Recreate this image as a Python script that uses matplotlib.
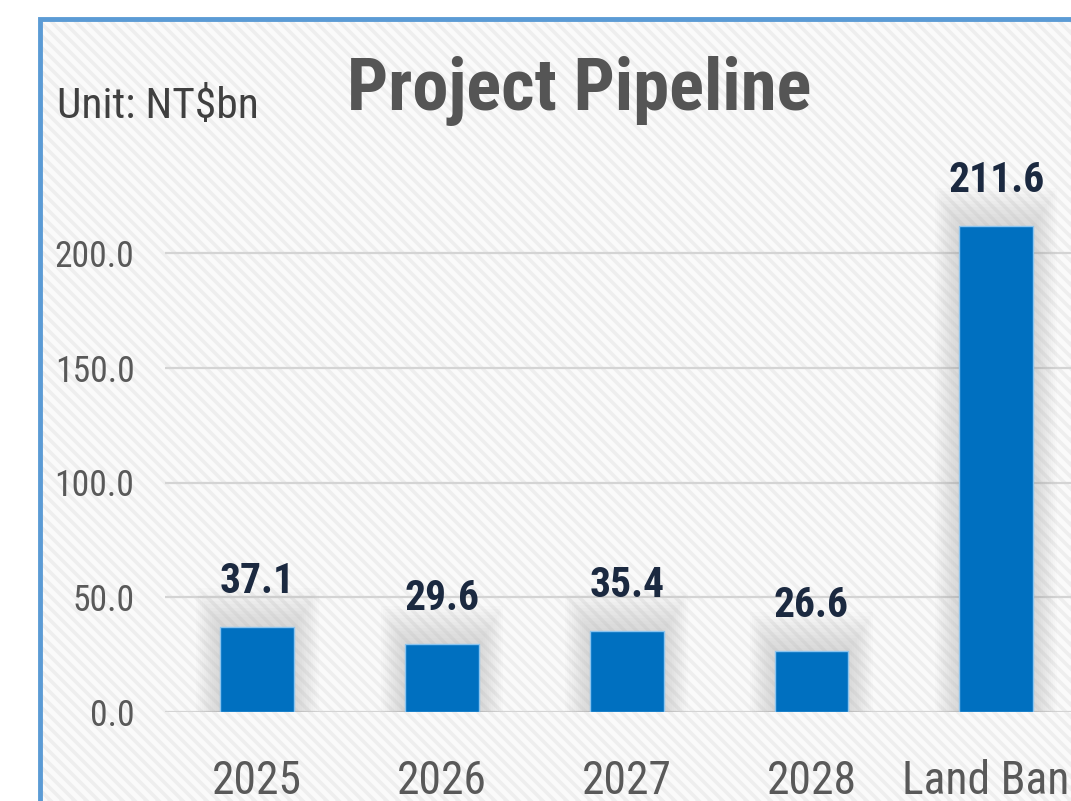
import matplotlib
matplotlib.use("Agg")
import matplotlib.pyplot as plt
from matplotlib.patches import Rectangle
from matplotlib.collections import LineCollection
from matplotlib import font_manager
import numpy as np

categories = ["2025", "2026", "2027", "2028", "Land Bank"]
values = [37.1, 29.6, 35.4, 26.6, 211.6]
yticks = [0, 50, 100, 150, 200]
title = "Project Pipeline"
unit_label = "Unit: NT$bn"

available = {f.name for f in font_manager.fontManager.ttflist}
prefs = ["Roboto Condensed", "Liberation Sans Narrow", "Open Sans Condensed",
         "DejaVu Sans Condensed", "Roboto", "Liberation Sans"]
main_font = next((p for p in prefs if p in available), "DejaVu Sans")
plt.rcParams["font.family"] = [main_font, "DejaVu Sans"]

W, H = 1071, 801
fig = plt.figure(figsize=(W / 100, H / 100), dpi=100)
fig.patch.set_facecolor("white")
renderer = fig.canvas.get_renderer()


def fit_size(s, target_px, weight="normal"):
    t = fig.text(0, 0, s, fontsize=20, fontweight=weight)
    w = t.get_window_extent(renderer=renderer).width
    t.remove()
    return 20 * target_px / w


# background panel with diagonal stripes and blue border
bx_px, by_px = 40, 19
bx, by = bx_px / W, 1 - by_px / H
bg = Rectangle((bx, -0.1), 1.2, by + 0.1, transform=fig.transFigure,
               facecolor="#eeeeee", edgecolor="none", zorder=-10)
fig.patches.append(bg)

period = 12.0
segs = []
top = H - by_px
for x0 in np.arange(bx_px - H, W + 10, period):
    L = H + 20
    segs.append([((x0) / W, top / H), ((x0 + L) / W, (top - L) / H)])
stripes = LineCollection(segs, colors="#fafafa", linewidths=3.6,
                         transform=fig.transFigure, zorder=-9)
stripes.set_clip_path(bg)
fig.add_artist(stripes)

border = Rectangle((bx, -0.1), 1.2, by + 0.1, transform=fig.transFigure,
                   facecolor="none", edgecolor="#5b9bd5", linewidth=3.5, zorder=10)
fig.patches.append(border)

# axes placement
ax_left = 165 / W
ax_width = 923.5 / W
ax_bottom = (H - 712) / H
ymax = 240
ax_height = (ymax * 2.295) / H
ax = fig.add_axes([ax_left, ax_bottom, ax_width, ax_height])
ax.set_facecolor("none")
ax.set_xlim(-0.5, 4.5)
ax.set_ylim(0, ymax)

x = np.arange(len(categories))

# soft shadow (glow) behind bars
for k in range(12):
    grow = k + 1
    ax.bar(x, [v + grow * 1.4 for v in values], width=0.40 + 0.022 * grow,
           color="#7a7a7a", alpha=0.018, edgecolor="none", zorder=1)

ax.bar(x, values, width=0.40, color="#0070c0", edgecolor="#8cc4ee",
       linewidth=1.0, zorder=3)

val_size = fit_size("37.1", 75, "bold")
for xi, v in zip(x, values):
    ax.annotate(f"{v:.1f}", xy=(xi, v), xytext=(0, 18), textcoords="offset points",
                ha="center", va="bottom", fontsize=val_size, fontweight="bold",
                color="#1b2940", zorder=4)

ax.set_yticks(yticks)
ax.set_yticklabels([f"{t:.1f}" for t in yticks])
ax.set_xticks(x)
ax.set_xticklabels(categories)
ax.grid(axis="y", color="#d4d4d4", linewidth=1.6, zorder=0)
ax.set_axisbelow(True)
for s in ax.spines.values():
    s.set_visible(False)
ax.tick_params(axis="y", length=0, pad=22, labelsize=fit_size("200.0", 80),
               labelcolor="#595959")
ax.tick_params(axis="x", length=0, pad=34, labelsize=fit_size("2025", 90),
               labelcolor="#595959")

fig.text(579 / W, (H - 110) / H, title, ha="center", va="baseline",
         fontsize=fit_size(title, 462, "bold"), fontweight="bold", color="#555555")
fig.text(57 / W, (H - 118) / H, unit_label, ha="left", va="baseline",
         fontsize=fit_size(unit_label, 201), color="#404040")

fig.savefig("out.png", dpi=100, facecolor=fig.get_facecolor())
